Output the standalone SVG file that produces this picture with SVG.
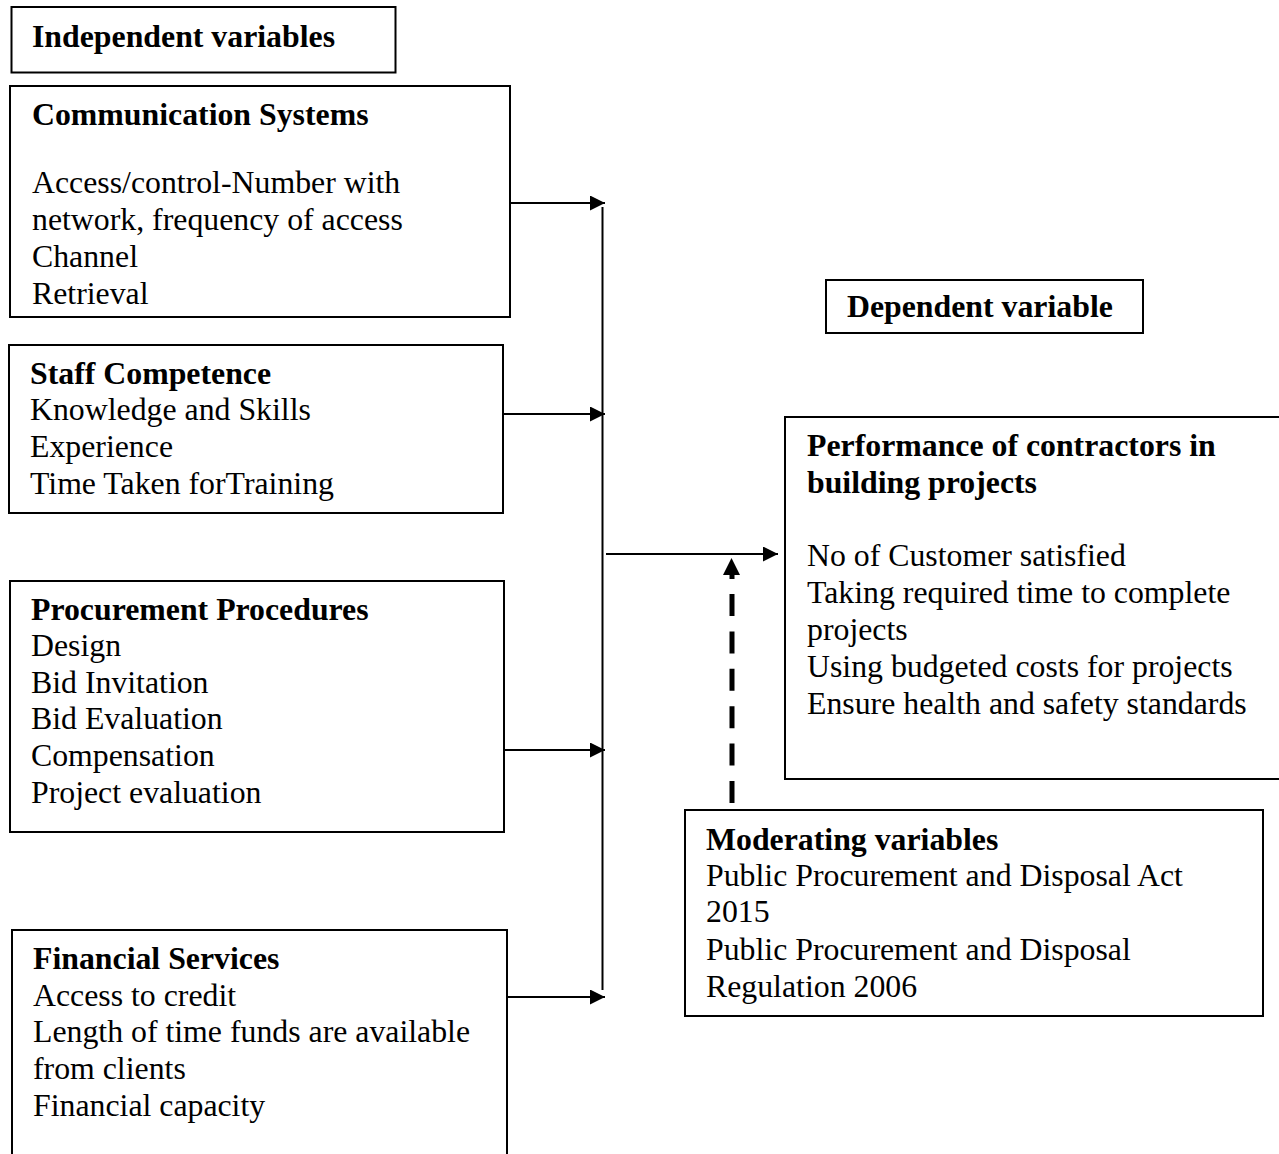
<svg xmlns="http://www.w3.org/2000/svg" width="1279" height="1154" viewBox="0 0 1279 1154">
<style>
.box{fill:#fff;stroke:#000;stroke-width:2}
.t{font-family:"Liberation Serif","Times New Roman",serif;font-size:31.8px;fill:#000}
.b{font-weight:bold}
.ln{stroke:#000;stroke-width:2;fill:none}
</style>
<defs>
<marker id="ah" markerUnits="userSpaceOnUse" markerWidth="16" markerHeight="16" refX="15" refY="7.5" orient="auto">
<path d="M0,0 L15,7.5 L0,15 z" fill="#000"/>
</marker>
</defs>
<rect width="1279" height="1154" fill="#fff"/>
<g id="n-independent">
<rect class="box" x="11.5" y="7" width="384" height="65.5"/>
<text class="t b" x="32" y="47">Independent variables</text>
</g>
<g id="n-communication">
<rect class="box" x="10" y="86" width="500" height="231"/>
<text class="t b" x="32" y="125">Communication Systems</text>
<text class="t" x="32" y="193">Access/control-Number with</text>
<text class="t" x="32" y="230">network, frequency of access</text>
<text class="t" x="32" y="267">Channel</text>
<text class="t" x="32" y="304">Retrieval</text>
</g>
<g id="n-staff">
<rect class="box" x="9" y="345" width="494" height="168"/>
<text class="t b" x="30" y="384">Staff Competence</text>
<text class="t" x="30" y="420">Knowledge and Skills</text>
<text class="t" x="30" y="457">Experience</text>
<text class="t" x="30" y="494">Time Taken forTraining</text>
</g>
<g id="n-procurement">
<rect class="box" x="10" y="581" width="494" height="251"/>
<text class="t b" x="31" y="620">Procurement Procedures</text>
<text class="t" x="31" y="656">Design</text>
<text class="t" x="31" y="693">Bid Invitation</text>
<text class="t" x="31" y="729">Bid Evaluation</text>
<text class="t" x="31" y="766">Compensation</text>
<text class="t" x="31" y="803">Project evaluation</text>
</g>
<g id="n-financial">
<rect class="box" x="12" y="930" width="495" height="240"/>
<text class="t b" x="33" y="969">Financial Services</text>
<text class="t" x="33" y="1006">Access to credit</text>
<text class="t" x="33" y="1042">Length of time funds are available</text>
<text class="t" x="33" y="1079">from clients</text>
<text class="t" x="33" y="1116">Financial capacity</text>
</g>
<g id="n-dependent">
<rect class="box" x="826" y="280" width="317" height="53"/>
<text class="t b" x="847" y="317">Dependent variable</text>
</g>
<g id="n-performance">
<rect class="box" x="785" y="417" width="500" height="362"/>
<text class="t b" x="807" y="456">Performance of contractors in</text>
<text class="t b" x="807" y="493">building projects</text>
<text class="t" x="807" y="566">No of Customer satisfied</text>
<text class="t" x="807" y="603">Taking required time to complete</text>
<text class="t" x="807" y="640">projects</text>
<text class="t" x="807" y="677">Using budgeted costs for projects</text>
<text class="t" x="807" y="714">Ensure health and safety standards</text>
</g>
<g id="n-moderating">
<rect class="box" x="685" y="810" width="578" height="206"/>
<text class="t b" x="706" y="850">Moderating variables</text>
<text class="t" x="706" y="886">Public Procurement and Disposal Act</text>
<text class="t" x="706" y="922">2015</text>
<text class="t" x="706" y="960">Public Procurement and Disposal</text>
<text class="t" x="706" y="997">Regulation 2006</text>
</g>
<g id="connectors">
<line class="ln" x1="602.5" y1="207" x2="602.5" y2="990"/>
<line class="ln" x1="510" y1="203" x2="605" y2="203" marker-end="url(#ah)"/>
<line class="ln" x1="503" y1="414" x2="605" y2="414" marker-end="url(#ah)"/>
<line class="ln" x1="504" y1="750" x2="605" y2="750" marker-end="url(#ah)"/>
<line class="ln" x1="507" y1="997" x2="605" y2="997" marker-end="url(#ah)"/>
<line class="ln" x1="606" y1="554" x2="778" y2="554" marker-end="url(#ah)"/>
<path d="M732,803 L732,580" stroke="#000" stroke-width="5" stroke-dasharray="22 15.4" fill="none"/>
<path d="M723,575 L731.5,558 L740,575 z" fill="#000"/>
<rect x="729.5" y="574" width="5" height="5" fill="#000"/>
</g>
</svg>
